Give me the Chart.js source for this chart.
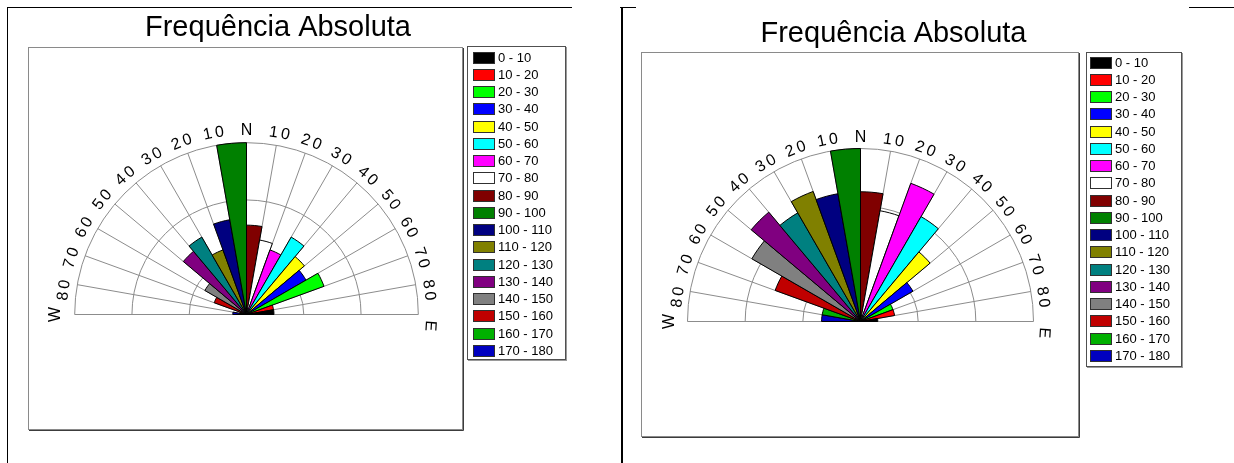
<!DOCTYPE html>
<html lang="pt">
<head>
<meta charset="utf-8">
<title>Frequência Absoluta</title>
<script src="https://cdn.jsdelivr.net/npm/chart.js@4/dist/chart.umd.min.js"></script>
<style>
  html, body { margin: 0; padding: 0; background: #fff; }
  body { position: relative; width: 1234px; height: 463px; overflow: hidden;
         font-family: "Liberation Sans", Arial, sans-serif; }
  .rule { position: absolute; background: #000; }
  .rose { position: absolute; top: 0; }
  .key { position: absolute; box-sizing: border-box; border: 1px solid #505050; background: #fff;
         box-shadow: 1px 1px 0 #9a9a9a; }
  .key-row { position: absolute; height: 12px; display: flex; align-items: center; white-space: nowrap;
             font-size: 13px; line-height: 12px; color: #000; }
  .key-swatch { box-sizing: border-box; width: 22px; height: 12px; border: 1px solid #303030;
                margin-right: 3px; flex: none; }
</style>
</head>
<body>
<!-- page table borders -->
<div class="rule" style="left:7px;top:7px;width:565px;height:1px"></div>
<div class="rule" style="left:620px;top:7px;width:16px;height:1px"></div>
<div class="rule" style="left:1189px;top:7px;width:45px;height:1px"></div>
<div class="rule" style="left:7px;top:7px;width:1px;height:456px"></div>
<div class="rule" style="left:621px;top:7px;width:2px;height:456px"></div>

<canvas id="roseA" class="rose" width="500" height="433" style="left:28px"></canvas>
<div id="keyA" class="key" style="left:467px;top:46px;width:99px;height:314px"></div>

<canvas id="roseB" class="rose" width="505" height="440" style="left:641px"></canvas>
<div id="keyB" class="key" style="left:1086px;top:52px;width:96px;height:315px"></div>

<script>
// direction classes (degrees) and their colours
const classLabels = ['0 - 10', '10 - 20', '20 - 30', '30 - 40', '40 - 50', '50 - 60',
  '60 - 70', '70 - 80', '80 - 90', '90 - 100', '100 - 110', '110 - 120',
  '120 - 130', '130 - 140', '140 - 150', '150 - 160', '160 - 170', '170 - 180'];
const classColors = ['#000000', '#ff0000', '#00ff00', '#0000ff', '#ffff00', '#00ffff',
  '#ff00ff', '#ffffff', '#800000', '#008000', '#000080', '#808000',
  '#008080', '#800080', '#808080', '#c00000', '#00b000', '#0000c0'];

// absolute frequency per class
const freqA = [4, 4, 12, 10, 11, 13, 10, 11, 13, 25, 14, 10, 13, 12, 7, 5, 1, 2];
const freqB = [4, 8, 8, 14, 21, 28, 34, 26, 30, 40, 30, 32, 29, 33, 29, 21, 9, 9];

// rim labels from west to east, one every 10 degrees
const compassTicks = ['W', '80', '70', '60', '50', '40', '30', '20', '10', 'N',
  '10', '20', '30', '40', '50', '60', '70', '80', 'E'];

const chartTitle = 'Frequência Absoluta';
const FONT = '"Liberation Sans", Arial, sans-serif';

// one glyph at a time, each turned to follow the rim
function drawAlongArc(ctx, text, cx, cy, r, mid, gap) {
  const chars = Array.from(text);
  const widths = chars.map(c => ctx.measureText(c).width);
  const total = widths.reduce((a, b) => a + b, 0) + gap * (chars.length - 1);
  let a = mid - total / (2 * r);
  chars.forEach((c, k) => {
    const m = a + widths[k] / (2 * r);
    ctx.save();
    ctx.translate(cx + r * Math.sin(m), cy - r * Math.cos(m));
    ctx.rotate(m);
    ctx.fillText(c, 0, 0);
    ctx.restore();
    a += (widths[k] + gap) / r;
  });
}

// frame box, half-circle grid and rim labels around the rose
const roseFrame = {
  id: 'roseFrame',
  beforeDraw(chart, args, o) {
    const { ctx, chartArea: a } = chart;
    const w = o.frameWidth, h = a.bottom - a.top;
    ctx.save();
    ctx.fillStyle = '#fff';
    ctx.fillRect(a.left, a.top, w, h);
    ctx.lineWidth = 1;
    ctx.strokeStyle = '#3c3c3c';
    ctx.beginPath();
    ctx.moveTo(a.left + 1, a.bottom + 0.5);
    ctx.lineTo(a.left + w + 0.5, a.bottom + 0.5);
    ctx.lineTo(a.left + w + 0.5, a.top + 1);
    ctx.stroke();
    ctx.strokeStyle = '#8a8a8a';
    ctx.strokeRect(a.left + 0.5, a.top + 0.5, w - 1, h - 1);
    ctx.restore();
  },
  beforeDatasetsDraw(chart, args, o) {
    const s = chart.scales.r, ctx = chart.ctx;
    const cx = s.xCenter, cy = s.yCenter;
    const R = s.getDistanceFromCenterForValue(s.max);
    ctx.save();
    ctx.strokeStyle = o.gridColor;
    ctx.lineWidth = 1;
    s.ticks.forEach(t => {
      if (t.value <= s.min) return;
      ctx.beginPath();
      ctx.arc(cx, cy, s.getDistanceFromCenterForValue(t.value), Math.PI, 2 * Math.PI);
      ctx.stroke();
    });
    const n = compassTicks.length;
    compassTicks.forEach((_, i) => {
      const th = (-90 + i * 180 / (n - 1)) * Math.PI / 180;
      ctx.beginPath();
      ctx.moveTo(cx, cy);
      ctx.lineTo(cx + R * Math.sin(th), cy - R * Math.cos(th));
      ctx.stroke();
    });
    ctx.restore();
  },
  afterDatasetsDraw(chart, args, o) {
    const s = chart.scales.r, ctx = chart.ctx;
    ctx.save();
    ctx.font = o.labelSize + 'px ' + FONT;
    ctx.fillStyle = '#000';
    ctx.textAlign = 'center';
    ctx.textBaseline = 'middle';
    const n = compassTicks.length;
    compassTicks.forEach((txt, i) => {
      const base = -90 + i * 180 / (n - 1);
      let deg = base * o.labelSpread, r = o.labelRadius;
      if (i === 0) { deg = base; r = o.westRadius; }
      else if (i === n - 1) { deg = base + o.eastShift; }
      drawAlongArc(ctx, txt, s.xCenter, s.yCenter, r, deg * Math.PI / 180, o.letterGap);
    });
    ctx.restore();
  }
};

// centre and radius of the rose inside its frame
function placeRose(scale) {
  const o = scale.chart.options.plugins.roseFrame;
  const a = scale.chart.chartArea;
  const w = o.frameWidth, h = a.bottom - a.top;
  scale.xCenter = Math.round(a.left + w / 2) + 0.5;
  scale.yCenter = Math.round(a.top + o.centerY * h) + 0.5;
  scale.drawingArea = o.radius * w;
}

function makeRose(id, freq, box) {
  // sectors run clockwise from W: class 170-180 first, class 0-10 last
  const order = freq.map((_, i) => freq.length - 1 - i);
  return new Chart(document.getElementById(id), {
    type: 'polarArea',
    data: {
      labels: order.map(i => classLabels[i]),
      datasets: [{
        data: order.map(i => freq[i]),
        backgroundColor: order.map(i => classColors[i]),
        borderColor: '#000',
        borderWidth: 1,
        angle: 180 / freq.length
      }]
    },
    options: {
      responsive: false,
      animation: false,
      devicePixelRatio: 1,
      events: [],
      layout: { padding: { bottom: box.bottomPad } },
      plugins: {
        legend: { display: false },
        tooltip: { enabled: false },
        title: {
          display: true, text: chartTitle, color: '#000',
          font: { family: FONT, size: 29, weight: 'normal', lineHeight: 1.2 },
          padding: { top: box.titleTop, bottom: box.titleBottom }
        },
        roseFrame: {
          frameWidth: box.width, centerY: 0.698, radius: 0.395,
          gridColor: '#8c8c8c', labelSize: 16, labelRadius: 184, westRadius: 191,
          labelSpread: 1.03, eastShift: 3.5, letterGap: 3
        }
      },
      scales: {
        r: {
          display: false, min: 0, max: Math.max(...freq), startAngle: -90,
          ticks: { count: 4 }, afterFit: placeRose
        }
      }
    },
    plugins: [roseFrame]
  });
}

function buildKey(el, pad) {
  classLabels.forEach((lab, i) => {
    const row = document.createElement('div');
    row.className = 'key-row';
    row.style.left = pad.left + 'px';
    row.style.top = (pad.top + i * pad.pitch) + 'px';
    const sw = document.createElement('span');
    sw.className = 'key-swatch';
    sw.style.background = classColors[i];
    const tx = document.createElement('span');
    tx.textContent = lab;
    row.append(sw, tx);
    el.appendChild(row);
  });
}

makeRose('roseA', freqA, { width: 435, bottomPad: 3, titleTop: 11, titleBottom: 1.2 });
makeRose('roseB', freqB, { width: 438, bottomPad: 3, titleTop: 16.2, titleBottom: 1 });
buildKey(document.getElementById('keyA'), { left: 5, top: 4.7, pitch: 17.25 });
buildKey(document.getElementById('keyB'), { left: 3, top: 3.7, pitch: 17.25 });
</script>
</body>
</html>
